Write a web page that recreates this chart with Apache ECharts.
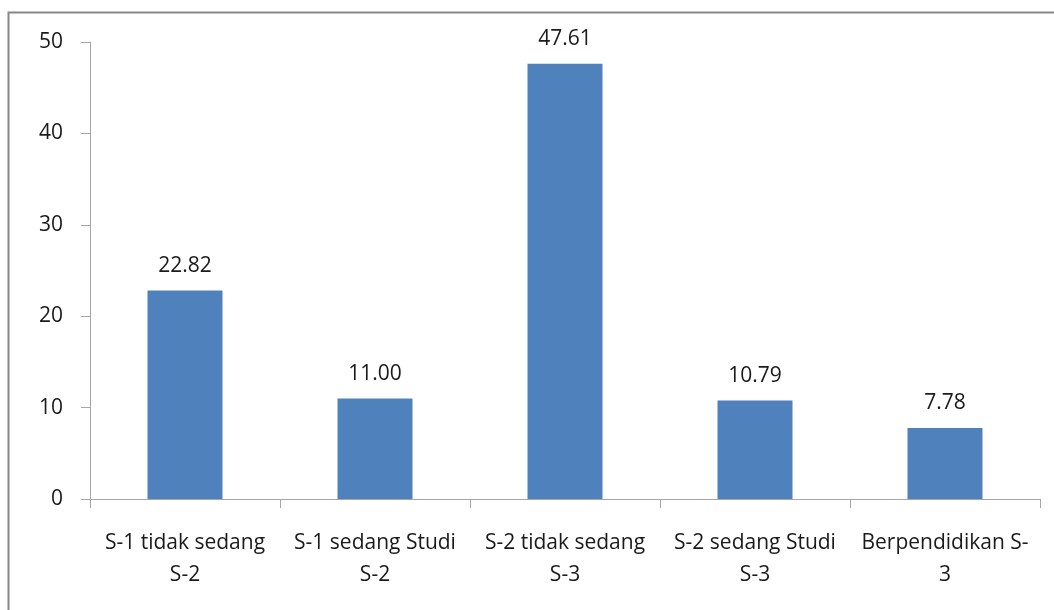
<!DOCTYPE html>
<html>
<head>
<meta charset="utf-8">
<script src="https://cdn.jsdelivr.net/npm/echarts@6/dist/echarts.min.js"></script>
<style>
html,body{margin:0;padding:0;background:#fff;}
#chart{width:1054px;height:610px;}
</style>
</head>
<body>
<div id="chart"></div>
<script>
var categories = ['S-1 tidak sedang\nS-2', 'S-1 sedang Studi\nS-2', 'S-2 tidak sedang\nS-3', 'S-2 sedang Studi\nS-3', 'Berpendidikan S-\n3'];
var values = [22.82, 11.00, 47.61, 10.79, 7.78];
var yTicks = [0, 10, 20, 30, 40, 50];

var myChart = echarts.init(document.getElementById('chart'));
var fontName = 'Open Sans';
var option = {
    animation: false,
    graphic: [{
        type: 'rect',
        shape: {x: 8.5, y: 12.5, width: 1200, height: 800},
        style: {fill: 'none', stroke: '#888', lineWidth: 2}
    }],
    grid: {left: 90, right: 14, top: 42, bottom: 111},
    xAxis: {
        type: 'category',
        data: categories,
        axisLine: {lineStyle: {color: '#a6a6a6', width: 1}},
        axisTick: {show: true, length: 9, lineStyle: {color: '#a6a6a6'}},
        axisLabel: {
            color: '#1a1a1a', fontSize: 21, fontFamily: fontName, margin: 28,
            lineHeight: 32, interval: 0
        }
    },
    yAxis: {
        type: 'value',
        min: yTicks[0],
        max: yTicks[yTicks.length - 1],
        interval: 10,
        splitLine: {show: false},
        axisLine: {show: true, lineStyle: {color: '#a6a6a6', width: 1}},
        axisTick: {show: true, length: 9, lineStyle: {color: '#a6a6a6'}},
        axisLabel: {color: '#1a1a1a', fontSize: 21, fontFamily: fontName, margin: 27}
    },
    series: [{
        type: 'bar',
        data: values,
        barWidth: 75,
        itemStyle: {color: '#4f81bd'},
        label: {
            show: true,
            position: 'top',
            distance: 14,
            color: '#1a1a1a',
            fontSize: 21,
            fontFamily: fontName,
            formatter: function (p) { return p.value.toFixed(2); }
        }
    }]
};
myChart.setOption(option);
</script>
</body>
</html>
